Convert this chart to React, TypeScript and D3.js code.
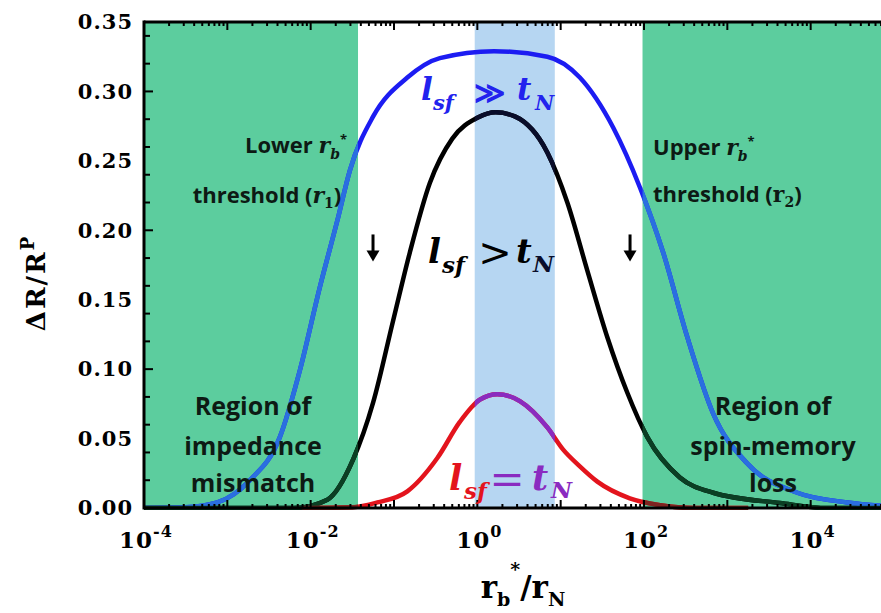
import React from 'react';
import * as d3 from 'd3';

// curve samples: x is log10(r_b*/r_N), y is ΔR/R^P
const blueExp = [-4, -3.5, -3.12, -2.73, -2.37, -2.13, -1.89, -1.68, -1.53, -1.25, -0.84, -0.45, 0.2, 0.84, 1.23, 1.63, 1.95, 2.23, 2.52, 2.83, 3.24, 3.84, 4.44, 5.0];
const blueVal = [0, 0.0005, 0.004, 0.02, 0.051, 0.099, 0.159, 0.207, 0.243, 0.282, 0.31, 0.324, 0.329, 0.325, 0.31, 0.274, 0.231, 0.184, 0.123, 0.068, 0.032, 0.011, 0.004, 0.001];

const blackExp = [-4, -2.2, -1.8, -1.49, -1.25, -1.01, -0.81, -0.57, -0.3, 0.0, 0.22, 0.45, 0.84, 1.08, 1.32, 1.56, 1.8, 2.04, 2.43, 2.83, 3.63, 4.2, 5.0];
const blackVal = [0, 0, 0.006, 0.035, 0.076, 0.135, 0.184, 0.234, 0.266, 0.281, 0.285, 0.282, 0.256, 0.22, 0.171, 0.123, 0.083, 0.051, 0.022, 0.011, 0.0036, 0, 0];

const redExp = [-2.1, -1.5, -1.2, -0.84, -0.48, -0.21, 0.03, 0.24, 0.51, 0.84, 1.03, 1.23, 1.44, 1.83, 2.2, 2.6, 3.25];
const redVal = [0, 0.0005, 0.004, 0.012, 0.036, 0.062, 0.078, 0.082, 0.077, 0.058, 0.042, 0.03, 0.019, 0.007, 0.002, 0, 0];

// shaded regions in r_b*/r_N units
const mismatchBand = [1e-4, 0.037];
const memoryLossBand = [96, 1e5];
const optimumBand = [0.93, 8.5];

// arrows marking the two thresholds (r_b*/r_N, ΔR/R^P top and bottom)
const arrowAt = [0.056, 68];
const arrowSpan = [0.197, 0.179];

const yTickLabels = ['0.00', '0.05', '0.10', '0.15', '0.20', '0.25', '0.30', '0.35'];
const xLabelExps = [-4, -2, 0, 2, 4];

const GREEN = '#5ccd9e';
const BAND = '#b6d6f2';
const serif = '"DejaVu Serif", serif';
const sans = '"Open Sans", sans-serif';

const App = () => {
  const x = d3.scaleLog().domain([1e-4, 1e5]).range([144, 894]);
  const y = d3.scaleLinear().domain([0, 0.35]).range([508, 22]);

  const line = d3.line<[number, number]>()
    .x(d => x(Math.pow(10, d[0])))
    .y(d => y(d[1]))
    .curve(d3.curveMonotoneX);

  const blue = line(blueExp.map((e, i) => [e, blueVal[i]])) || '';
  const black = line(blackExp.map((e, i) => [e, blackVal[i]])) || '';
  const red = line(redExp.map((e, i) => [e, redVal[i]])) || '';

  const [x0, x1] = x.range();
  const [yb, yt] = y.range();

  const yMajor = y.ticks(7);
  const yMinor = y.ticks(14);
  const xAll = x.ticks();
  const isDecade = (v: number) => Math.abs(Math.log10(v) - Math.round(Math.log10(v))) < 1e-6;

  const band = (b: number[], fill: string, key: string) => (
    <rect key={key} x={x(b[0])} y={yt} width={x(b[1]) - x(b[0])} height={yb - yt} fill={fill} />
  );

  return (
    <svg width={881} height={613} style={{ position: 'absolute', left: 0, top: 0, background: '#fff' }}>
      <defs>
        <clipPath id="plotClip"><rect x={x0} y={yt - 2} width={x1 - x0} height={yb - yt + 4} /></clipPath>
        <clipPath id="greenClip">
          <rect x={x(mismatchBand[0])} y={0} width={x(mismatchBand[1]) - x(mismatchBand[0])} height={613} />
          <rect x={x(memoryLossBand[0])} y={0} width={x(memoryLossBand[1]) - x(memoryLossBand[0])} height={613} />
        </clipPath>
        <clipPath id="bandClip">
          <rect x={x(optimumBand[0])} y={0} width={x(optimumBand[1]) - x(optimumBand[0])} height={613} />
        </clipPath>
      </defs>

      {band(mismatchBand, GREEN, 'g1')}
      {band(memoryLossBand, GREEN, 'g2')}
      {band(optimumBand, BAND, 'b1')}

      <g clipPath="url(#plotClip)" fill="none" strokeWidth={4.5} strokeLinejoin="round">
        <path d={blue} stroke="#1c1cf2" />
        <path d={black} stroke="#000" />
        <path d={red} stroke="#e3141d" />
        <g clipPath="url(#greenClip)">
          <path d={blue} stroke="#2a6fe0" />
          <path d={black} stroke="#0b3f24" />
          <path d={red} stroke="#7d2420" />
        </g>
        <g clipPath="url(#bandClip)">
          <path d={black} stroke="#0a0d2a" />
          <path d={red} stroke="#8a2bc0" />
        </g>
      </g>

      {/* frame and inward ticks */}
      <g stroke="#000">
        {yMinor.map(v => (
          <line key={'ym' + v} x1={x0} x2={x0 + (yMajor.some(m => Math.abs(m - v) < 1e-9) ? 9 : 6)} y1={y(v)} y2={y(v)} strokeWidth={2} />
        ))}
        {xAll.map(v => {
          const len = isDecade(v) ? 8 : 4;
          return (
            <g key={'xt' + v}>
              <line x1={x(v)} x2={x(v)} y1={yb} y2={yb - len} strokeWidth={2} />
              <line x1={x(v)} x2={x(v)} y1={yt} y2={yt + len} strokeWidth={2} />
            </g>
          );
        })}
        <line x1={x0} x2={881} y1={yb} y2={yb} strokeWidth={3} />
        <line x1={x0} x2={881} y1={yt} y2={yt} strokeWidth={3} />
        <line x1={x0} x2={x0} y1={yt - 1.5} y2={yb + 1.5} strokeWidth={3} />
      </g>

      {/* y tick labels */}
      <g fontFamily={serif} fontWeight="bold" fontSize={21} textAnchor="end" letterSpacing={1}>
        {yMajor.map((v, i) => (
          <text key={'yl' + v} x={133} y={y(v)} dy="0.35em">{yTickLabels[i]}</text>
        ))}
      </g>

      {/* x tick labels */}
      <g fontFamily={serif} fontWeight="bold" textAnchor="middle">
        {xLabelExps.map(e => (
          <text key={'xl' + e} x={x(Math.pow(10, e)) + 2} y={548} fontSize={23} letterSpacing={1}>
            10<tspan fontSize={16} dy={-11}>{e < 0 ? '-' + Math.abs(e) : e}</tspan>
          </text>
        ))}
      </g>

      {/* axis titles */}
      <text transform="translate(45,283) rotate(-90)" textAnchor="middle" fontFamily={serif} fontWeight="bold" fontSize={26} letterSpacing={2}>
        ΔR/R<tspan fontSize={18} dy={-11}>P</tspan>
      </text>
      <text x={523} y={598} textAnchor="middle" fontFamily={serif} fontWeight="bold" fontSize={31}>
        r<tspan fontSize={19} dy={8}>b</tspan><tspan fontSize={19} dy={-30}>*</tspan><tspan dy={22}>/r</tspan><tspan fontSize={19} dy={8}>N</tspan>
      </text>

      {/* curve labels */}
      <g fontFamily={serif} fontWeight="bold" fontStyle="italic">
        <g fill="#2222ee">
          <text x={421} y={100} fontSize={31}>l</text>
          <text x={433} y={110} fontSize={21}>sf</text>
          <text x={489} y={103} fontSize={30} fontStyle="normal" textAnchor="middle">≫</text>
          <text x={517} y={100} fontSize={31}>t</text>
          <text x={535} y={110} fontSize={21}>N</text>
        </g>
        <g fill="#000">
          <text x={428} y={263} fontSize={34}>l</text>
          <text x={442} y={273} fontSize={23}>sf</text>
          <text x={495} y={266} fontSize={40} fontWeight="normal" fontStyle="normal" textAnchor="middle">&gt;</text>
          <text x={516} y={263} fontSize={34}>t</text>
        </g>
        <text x={533} y={272} fontSize={23} fill="#0a0d2a">N</text>
        <g fill="#e3141d">
          <text x={449} y={490} fontSize={35}>l</text>
          <text x={464} y={499} fontSize={23}>sf</text>
        </g>
        <g fill="#8a2bc0">
          <text x={507} y={494} fontSize={42} fontWeight="normal" fontStyle="normal" textAnchor="middle">=</text>
          <text x={532} y={490} fontSize={35}>t</text>
          <text x={551} y={498} fontSize={23}>N</text>
        </g>
      </g>

      {/* region annotations */}
      <g fontFamily={sans} fontWeight="bold" fill="#0d1a14">
        <text x={296} y={153} fontSize={22} textAnchor="middle">
          Lower <tspan fontFamily={serif} fontStyle="italic">r</tspan><tspan fontFamily={serif} fontStyle="italic" fontSize={14} dy={6}>b</tspan><tspan fontSize={13} dy={-15}>*</tspan>
        </text>
        <text x={267} y={203} fontSize={22} textAnchor="middle">
          threshold (<tspan fontFamily={serif} fontStyle="italic">r</tspan><tspan fontFamily={serif} fontSize={14} dy={5}>1</tspan><tspan dy={-5}>)</tspan>
        </text>
        <text x={653} y={155} fontSize={22}>
          Upper <tspan fontFamily={serif} fontStyle="italic">r</tspan><tspan fontFamily={serif} fontStyle="italic" fontSize={14} dy={6}>b</tspan><tspan fontSize={13} dy={-15}>*</tspan>
        </text>
        <text x={653} y={202} fontSize={22}>
          threshold (<tspan fontFamily={serif}>r</tspan><tspan fontFamily={serif} fontSize={14} dy={5}>2</tspan><tspan dy={-5}>)</tspan>
        </text>
        <text textAnchor="middle" fontSize={25}>
          <tspan x={253} y={415}>Region of</tspan>
          <tspan x={253} y={455}>impedance</tspan>
          <tspan x={253} y={492}>mismatch</tspan>
        </text>
        <text textAnchor="middle" fontSize={25}>
          <tspan x={773} y={415}>Region of</tspan>
          <tspan x={773} y={455}>spin-memory</tspan>
          <tspan x={773} y={492}>loss</tspan>
        </text>
      </g>

      {/* threshold arrows */}
      <g fill="#000" stroke="#000">
        {arrowAt.map(v => (
          <g key={'ar' + v}>
            <line x1={x(v)} x2={x(v)} y1={y(arrowSpan[0])} y2={y(arrowSpan[1]) - 6} strokeWidth={3} />
            <path d={`M${x(v) - 6.5},${y(arrowSpan[1]) - 9}L${x(v) + 6.5},${y(arrowSpan[1]) - 9}L${x(v)},${y(arrowSpan[1]) + 2}Z`} stroke="none" />
          </g>
        ))}
      </g>
    </svg>
  );
};

export default App;
